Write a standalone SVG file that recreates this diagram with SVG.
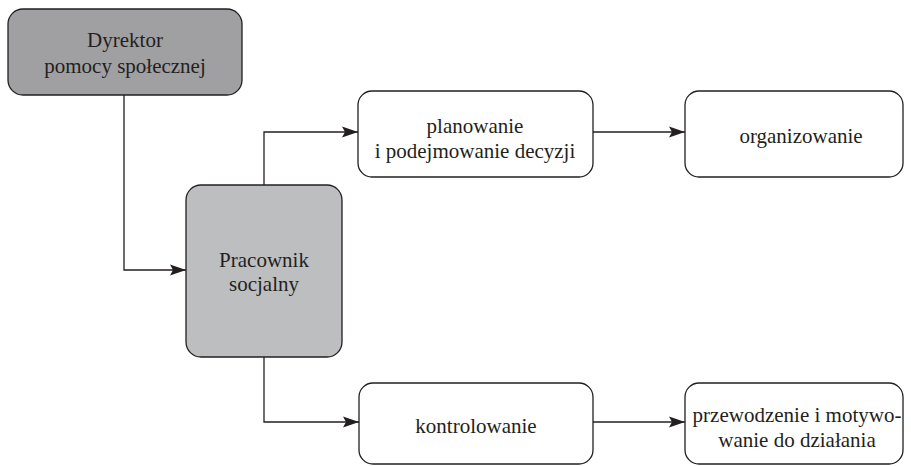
<svg xmlns="http://www.w3.org/2000/svg" width="911" height="466" viewBox="0 0 911 466">
<style>
.box{stroke:#231f20;stroke-width:1.3}
.w{fill:#ffffff}
.g1{fill:#a0a0a2}
.g2{fill:#bdbec0}
.t{font-family:"Liberation Serif","Times New Roman",serif;font-size:21px;fill:#231f20;text-anchor:middle}
.c{fill:none;stroke:#231f20;stroke-width:1.3}
</style>
<defs>
<marker id="arr" markerWidth="17" markerHeight="12" refX="16" refY="6" orient="auto" markerUnits="userSpaceOnUse">
<path d="M0,0.5 L16,6 L0,11.5 L3,6 Z" fill="#231f20"/>
</marker>
</defs>
<g id="connectors">
<path class="c" d="M124,95 V270 H186" marker-end="url(#arr)"/>
<path class="c" d="M264,185 V132 H358" marker-end="url(#arr)"/>
<path class="c" d="M264,357 V422 H359" marker-end="url(#arr)"/>
<path class="c" d="M593,132 H685" marker-end="url(#arr)"/>
<path class="c" d="M593,422 H685" marker-end="url(#arr)"/>
</g>
<g id="dyrektor">
<rect class="box g1" x="8" y="9" width="234" height="86" rx="15"/>
<text class="t" x="125" y="47">Dyrektor</text>
<text class="t" x="125" y="73">pomocy społecznej</text>
</g>
<g id="pracownik">
<rect class="box g2" x="186" y="185" width="156" height="172" rx="15"/>
<text class="t" x="264" y="267">Pracownik</text>
<text class="t" x="264" y="291">socjalny</text>
</g>
<g id="planowanie">
<rect class="box w" x="358" y="91" width="235" height="86" rx="14"/>
<text class="t" x="475" y="133">planowanie</text>
<text class="t" x="475" y="158">i podejmowanie decyzji</text>
</g>
<g id="organizowanie">
<rect class="box w" x="685" y="91" width="218" height="86" rx="14"/>
<text class="t" x="801" y="143">organizowanie</text>
</g>
<g id="kontrolowanie">
<rect class="box w" x="359" y="383" width="234" height="81" rx="14"/>
<text class="t" x="476" y="433">kontrolowanie</text>
</g>
<g id="przewodzenie">
<rect class="box w" x="685" y="383" width="218" height="81" rx="14"/>
<text class="t" x="797" y="422">przewodzenie i motywo-</text>
<text class="t" x="797" y="447">wanie do działania</text>
</g>
</svg>
